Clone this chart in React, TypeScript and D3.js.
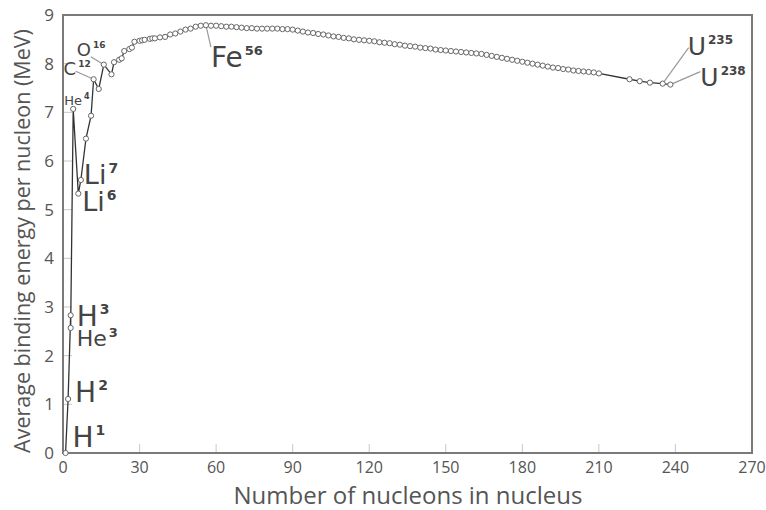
import React from "react";
import * as d3 from "d3";

const massNumbers = [1, 2, 3, 3, 4, 6, 7, 9, 11, 12, 14, 16, 19, 20, 22, 23, 24, 26, 27, 28, 30, 31, 32, 34, 35, 36, 38, 40, 42, 44, 46, 48, 50, 52, 54, 56, 58, 60, 62, 64, 66, 68, 70, 72, 74, 76, 78, 80, 82, 84, 86, 88, 90, 92, 94, 96, 98, 100, 102, 104, 106, 108, 110, 112, 114, 116, 118, 120, 122, 124, 126, 128, 130, 132, 134, 136, 138, 140, 142, 144, 146, 148, 150, 152, 154, 156, 158, 160, 162, 164, 166, 168, 170, 172, 174, 176, 178, 180, 182, 184, 186, 188, 190, 192, 194, 196, 198, 200, 202, 204, 206, 208, 210, 222, 226, 230, 235, 238];
const bindingEnergy = [0, 1.11, 2.83, 2.57, 7.07, 5.33, 5.61, 6.46, 6.93, 7.68, 7.48, 7.98, 7.78, 8.03, 8.08, 8.11, 8.26, 8.3, 8.33, 8.45, 8.47, 8.48, 8.49, 8.51, 8.52, 8.52, 8.54, 8.55, 8.6, 8.62, 8.66, 8.7, 8.72, 8.76, 8.78, 8.79, 8.78, 8.78, 8.77, 8.76, 8.76, 8.75, 8.74, 8.73, 8.73, 8.72, 8.72, 8.72, 8.72, 8.72, 8.71, 8.71, 8.7, 8.68, 8.66, 8.64, 8.63, 8.61, 8.6, 8.58, 8.56, 8.55, 8.53, 8.52, 8.5, 8.49, 8.48, 8.47, 8.46, 8.44, 8.43, 8.42, 8.4, 8.39, 8.37, 8.36, 8.35, 8.33, 8.32, 8.31, 8.29, 8.28, 8.27, 8.26, 8.25, 8.24, 8.23, 8.22, 8.21, 8.2, 8.18, 8.16, 8.14, 8.12, 8.1, 8.08, 8.06, 8.04, 8.02, 8.0, 7.98, 7.96, 7.94, 7.92, 7.91, 7.89, 7.88, 7.86, 7.85, 7.84, 7.83, 7.82, 7.8, 7.68, 7.64, 7.61, 7.59, 7.57];

const xTicks = [0, 30, 60, 90, 120, 150, 180, 210, 240, 270];
const yTicks = [0, 1, 2, 3, 4, 5, 6, 7, 8, 9];

const labelSymbols = ["H", "H", "H", "He", "He", "Li", "Li", "C", "O", "Fe", "U", "U"];
const labelSups = ["1", "2", "3", "3", "4", "6", "7", "12", "16", "56", "235", "238"];
const labelA = [1, 2, 3, 3, 4, 6, 7, 12, 16, 56, 235, 238];
const labelE = [0, 1.11, 2.83, 2.57, 7.07, 5.33, 5.61, 7.68, 7.98, 8.79, 7.59, 7.57];

const W = 766;
const H = 510;

export default function App() {
  const x = d3.scaleLinear().domain([0, 270]).range([63, 752]);
  const y = d3.scaleLinear().domain([0, 9]).range([453, 15]);
  const pts = massNumbers.map((a, i) => [a, bindingEnergy[i]] as [number, number]);
  const line = d3
    .line<[number, number]>()
    .x((d) => x(d[0]))
    .y((d) => y(d[1]));

  const layout: { dx: number; dy: number; fs: number; sfs: number; leader: boolean; sdy: number }[] = [
    { dx: 7, dy: -6, fs: 28, sfs: 14, leader: false, sdy: -12 }, // H1
    { dx: 7, dy: 3, fs: 28, sfs: 14, leader: false, sdy: -12 }, // H2
    { dx: 6, dy: 11, fs: 28, sfs: 14, leader: false, sdy: -12 }, // H3
    { dx: 6, dy: 18, fs: 22, sfs: 13, leader: false, sdy: -9 }, // He3
    { dx: -9, dy: -4, fs: 13, sfs: 8, leader: false, sdy: -6 }, // He4
    { dx: 4, dy: 17, fs: 27, sfs: 14, leader: false, sdy: -11 }, // Li6
    { dx: 3, dy: 4, fs: 27, sfs: 14, leader: false, sdy: -11 }, // Li7
    { dx: -30, dy: -4, fs: 18, sfs: 9, leader: true, sdy: -8 }, // C12
    { dx: -27, dy: -9, fs: 18, sfs: 9, leader: true, sdy: -8 }, // O16
    { dx: 5, dy: 42, fs: 28, sfs: 13, leader: true, sdy: -12 }, // Fe56
    { dx: 25, dy: -29, fs: 25, sfs: 12, leader: true, sdy: -11 }, // U235
    { dx: 30, dy: 1, fs: 25, sfs: 12, leader: true, sdy: -11 }, // U238
  ];
  const leaderEnd: [number, number][] = [
    [0, 0], [0, 0], [0, 0], [0, 0], [0, 0], [0, 0], [0, 0],
    [-18, -8], [-13, -8], [5, 22], [26, -36], [30, -13],
  ];

  const textColor = "#555";
  const font = "'DejaVu Sans', Verdana, sans-serif";

  return (
    <div style={{ position: "fixed", left: 0, top: 0 }}>
      <svg width={W} height={H} style={{ display: "block", background: "#fff" }}>
        {xTicks.slice(1, -1).map((t) => (
          <line key={"xt" + t} x1={x(t)} x2={x(t)} y1={y(0)} y2={y(0) - 9} stroke="#c8c8c8" strokeWidth={1} />
        ))}
        {yTicks.slice(1, -1).map((t) => (
          <line key={"yt" + t} x1={x(0)} x2={x(0) + 9} y1={y(t)} y2={y(t)} stroke="#c8c8c8" strokeWidth={1} />
        ))}
        <rect x={x(0)} y={y(9)} width={x(270) - x(0)} height={y(0) - y(9)} fill="none" stroke="#7a7a7a" strokeWidth={2} />
        {xTicks.map((t) => (
          <text key={"xl" + t} x={x(t)} y={y(0) + 20} textAnchor="middle" fontSize={16} fill={textColor} fontFamily="'Open Sans', sans-serif">
            {t}
          </text>
        ))}
        {yTicks.map((t) => (
          <text key={"yl" + t} x={x(0) - 9} y={y(t) + 6} textAnchor="end" fontSize={17} fill={textColor} fontFamily="'Open Sans', sans-serif">
            {t}
          </text>
        ))}
        <text x={408} y={503.5} textAnchor="middle" fontSize={24} fill={textColor} fontFamily="'Open Sans', sans-serif">
          Number of nucleons in nucleus
        </text>
        <text
          transform={`translate(30, 241) rotate(-90)`}
          textAnchor="middle"
          fontSize={21.5}
          fill={textColor}
          fontFamily="'Open Sans', sans-serif"
        >
          Average binding energy per nucleon (MeV)
        </text>
        {labelA.map((a, i) =>
          layout[i].leader ? (
            <line
              key={"ld" + i}
              x1={x(a)}
              y1={y(labelE[i])}
              x2={x(a) + leaderEnd[i][0]}
              y2={y(labelE[i]) + leaderEnd[i][1]}
              stroke="#999"
              strokeWidth={1.2}
            />
          ) : null
        )}
        <path d={line(pts) || ""} fill="none" stroke="#333" strokeWidth={1.3} />
        {pts.map((p, i) => (
          <circle key={"p" + i} cx={x(p[0])} cy={y(p[1])} r={2.6} fill="#fff" stroke="#666" strokeWidth={1} />
        ))}
        {labelSymbols.map((s, i) => {
          const L = layout[i];
          return (
            <text key={"lb" + i} x={x(labelA[i]) + L.dx} y={y(labelE[i]) + L.dy} fontSize={L.fs} fill="#444" fontFamily={font}>
              {s}
              <tspan fontSize={L.sfs} fontWeight="bold" dy={L.sdy} dx={2}>
                {labelSups[i]}
              </tspan>
            </text>
          );
        })}
      </svg>
    </div>
  );
}
